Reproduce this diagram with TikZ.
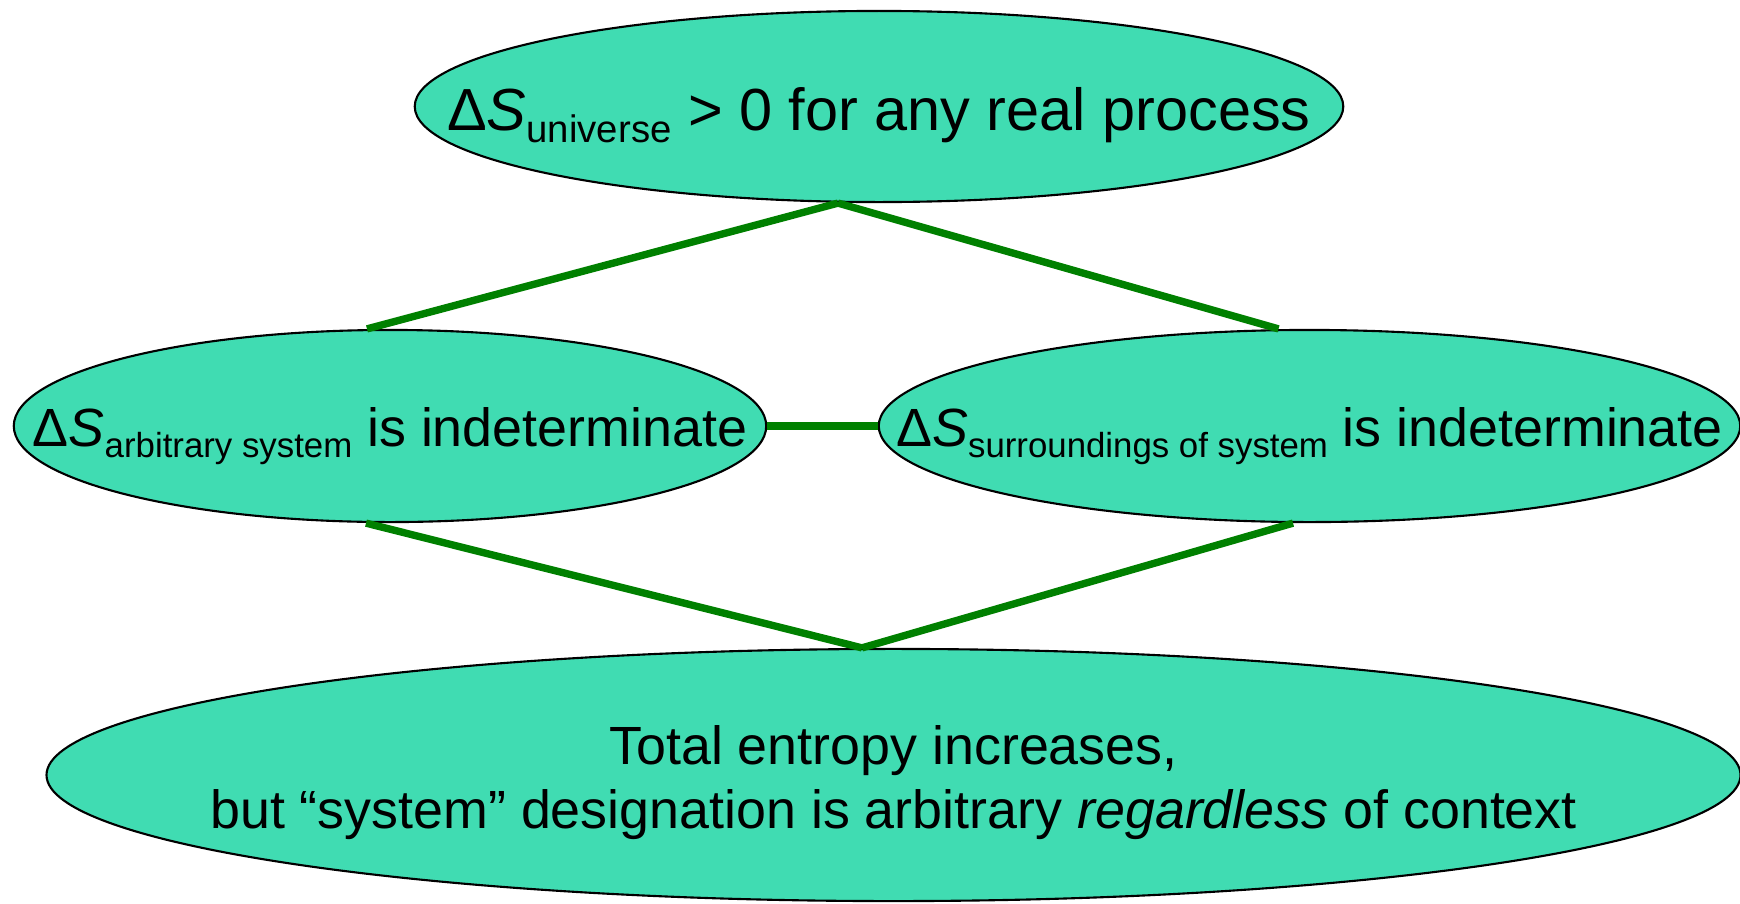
\documentclass[tikz,border=0pt]{standalone}
\usepackage{fontspec}
\setmainfont{Liberation Sans}
\usetikzlibrary{shapes.geometric}

\definecolor{blobfill}{RGB}{64,220,178}
\definecolor{linkgreen}{RGB}{0,128,0}

% lowered small text after Delta S
\newcommand{\lowsub}[1]{\raisebox{-3.1pt}{\fontsize{9.9}{10}\selectfont #1}}
\newcommand{\biglowsub}[1]{\raisebox{-3.4pt}{\fontsize{10.9}{11}\selectfont #1}}

\begin{document}
\begin{tikzpicture}[
      x = 0.01cm, y = -0.01cm,     % one unit per pixel, y pointing down
      line join = round
    ]

    \tikzstyle{blob}=[    % Defines style for the ellipses
      ellipse,
      draw = black,
      line width = 0.6pt,
      fill = blobfill,
      inner sep = 0pt
    ]

    \tikzstyle{txt}=[     % text in the middle of an ellipse
      font = \fontsize{15.3}{18.2}\selectfont,
      align = center,
      inner sep = 0pt
    ]

    \tikzstyle{link}=[    % green connectors
      draw = linkgreen,
      line width = 2.1pt
    ]

    \useasboundingbox (0,0) rectangle (1740,903);

    % Definition of the nodes
    \node[blob, minimum width=9.28cm, minimum height=1.91cm,
      label={[txt, font=\fontsize{16.9}{20}\selectfont, yshift=-0.09cm]center:{Δ\textit{S}\biglowsub{universe} > 0 for any real process}}]
      (universe) at (879,106.5) {};
    \node[blob, minimum width=7.52cm, minimum height=1.92cm,
      label={[txt, yshift=-0.1cm]center:{Δ\textit{S}\lowsub{arbitrary system} is indeterminate}}]
      (arbsys) at (390,426) {};
    \node[blob, minimum width=8.61cm, minimum height=1.92cm,
      label={[txt, yshift=-0.1cm]center:{Δ\textit{S}\lowsub{surroundings of system} is indeterminate}}]
      (surr) at (1309.5,426) {};
    \node[blob, minimum width=16.93cm, minimum height=2.52cm,
      label={[txt, yshift=-0.08cm]center:{Total entropy increases,\\but “system” designation is arbitrary \textit{regardless} of context}}]
      (total) at (893.5,775) {};

    % Definition of the edges
    \draw[link] ([xshift=-0.41cm]universe.south) -- ([xshift=-0.23cm]arbsys.north);
    \draw[link] ([xshift=-0.41cm]universe.south) -- ([xshift=-0.31cm]surr.north);
    \draw[link] (arbsys.east) -- (surr.west);
    \draw[link] ([xshift=-0.24cm]arbsys.south) -- ([xshift=-0.315cm]total.north);
    \draw[link] ([xshift=-0.165cm]surr.south) -- ([xshift=-0.315cm]total.north);

  \end{tikzpicture}
\end{document}
